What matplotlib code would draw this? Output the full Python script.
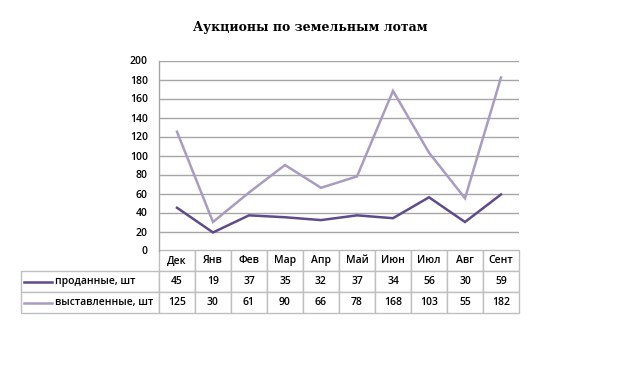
import matplotlib
matplotlib.use("Agg")
import matplotlib.pyplot as plt

title = "Аукционы по земельным лотам"
months = ["Дек", "Янв", "Фев", "Мар", "Апр", "Май", "Июн", "Июл", "Авг", "Сент"]
series_names = ["проданные, шт", "выставленные, шт"]
sold = [45, 19, 37, 35, 32, 37, 34, 56, 30, 59]
listed = [125, 30, 61, 90, 66, 78, 168, 103, 55, 182]
series_values = [sold, listed]
colors = ["#5f4b8b", "#a99bc2"]
yticks = [0, 20, 40, 60, 80, 100, 120, 140, 160, 180, 200]

W, H = 620, 386
fig = plt.figure(figsize=(W / 100, H / 100), dpi=100)
ax_l, ax_r, ax_t, ax_b = 159, 519, 60.5, 250.5
ax = fig.add_axes([ax_l / W, 1 - ax_b / H, (ax_r - ax_l) / W, (ax_b - ax_t) / H])

font = "Open Sans"
weight = "semibold"
fs = 7.5
x = list(range(len(months)))
for vals, c in zip(series_values, colors):
    ax.plot(x, vals, color=c, lw=1.8, solid_joinstyle="miter", zorder=3)

ax.set_xlim(-0.5, len(months) - 0.5)
ax.set_ylim(0, 200)
ax.set_yticks(yticks)
ax.set_yticklabels([str(v) for v in yticks], fontsize=fs, fontfamily=font, fontweight=weight)
ax.set_xticks([])
ax.tick_params(axis="y", length=0, pad=8)
ax.grid(axis="y", color="#a6a6a6", lw=1)
ax.set_axisbelow(True)
for s in ["top", "right", "bottom"]:
    ax.spines[s].set_visible(False)
ax.spines["left"].set_color("#a6a6a6")
ax.spines["left"].set_linewidth(1)

fig.text(0.5, 1 - 27 / H, title, ha="center", va="center", fontsize=9,
         fontfamily="DejaVu Serif", fontweight="bold")

# data table
axw = ax_r - ax_l
axh = ax_b - ax_t
tl, tb = 21, 313
label_w = ax_l - tl
col_w = axw / len(months)
total_w = ax_r - tl
bbox = [(tl - ax_l) / axw, -(tb - ax_b) / axh, total_w / axw, (tb - ax_b) / axh]
cell_text = [[name] + [str(v) for v in vals] for name, vals in zip(series_names, series_values)]
col_labels = [""] + months
col_widths = [label_w / total_w] + [col_w / total_w] * len(months)
tbl = ax.table(cellText=cell_text, colLabels=col_labels, colWidths=col_widths,
               cellLoc="center", bbox=bbox)
tbl.auto_set_font_size(False)
tbl.set_fontsize(fs)
edge = "#bfbfbf"
for (r, cidx), cell in tbl.get_celld().items():
    cell.get_text().set_fontfamily(font)
    cell.get_text().set_fontweight(weight)
    cell.set_linewidth(1)
    cell.set_edgecolor(edge)
    if r == 0 and cidx == 0:
        cell.visible_edges = ""
    elif cidx == 0:
        cell.get_text().set_horizontalalignment("left")
        cell._loc = "left"
        cell.PAD = 34 / label_w
tbl.set_clip_on(False)

# legend keys inside row-label cells
row_h = (tb - ax_b) / 3
for i, col in enumerate(colors, start=1):
    yc = ax_b + row_h * (i + 0.5)
    ax.plot([(24 - ax_l) / axw, (52 - ax_l) / axw], [-(yc - ax_b) / axh] * 2,
            transform=ax.transAxes, color=col, lw=1.8, clip_on=False, zorder=5)

fig.savefig("out.png", dpi=100)
